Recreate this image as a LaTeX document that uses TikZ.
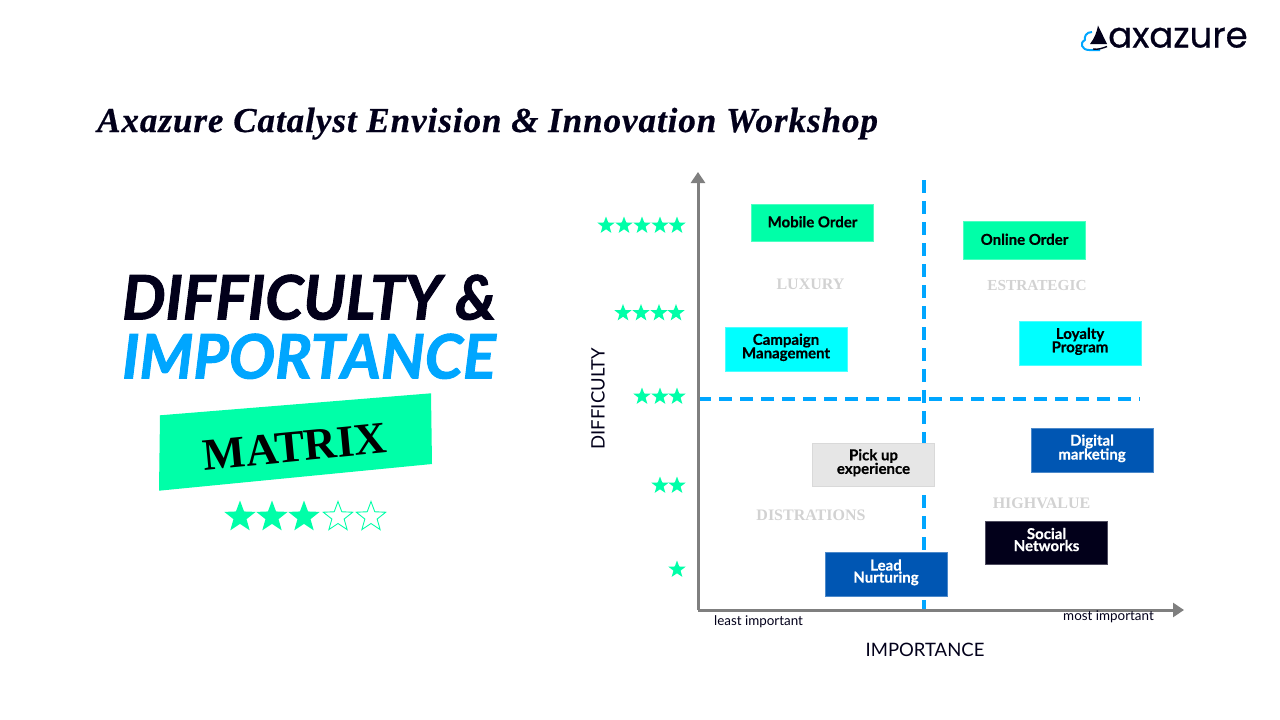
\documentclass[tikz,border=0pt]{standalone}
\usepackage{fontspec}
\setmainfont{Lato}
\newfontfamily\serifface{Liberation Serif}
\newfontfamily\logoface[FakeBold=0.6]{Poppins}
\newfontfamily\headface[FakeBold=1.6]{Lato}
\newfontfamily\cardface[FakeBold=0.5]{Lato}
\usetikzlibrary{shapes.geometric}
\usetikzlibrary{arrows.meta}
\definecolor{mintc}{HTML}{00FFA8}
\definecolor{cyanc}{HTML}{00FFFF}
\definecolor{paleg}{HTML}{E6E6E6}
\definecolor{royalb}{HTML}{0056B3}
\definecolor{inkc}{HTML}{02001A}
\definecolor{skyb}{HTML}{00A6FF}
\definecolor{axisg}{HTML}{7F7F7F}
\definecolor{quadg}{HTML}{D2D2D2}
\tikzset{
	card/.style={minimum width=122pt,inner sep=0pt,align=center,font=\fontsize{15}{13}\selectfont\cardface\bfseries},
	twoline/.style={text depth=6pt},
	mintcard/.style={card,fill=mintc,draw=mintc!70!white,text=black},
	cyancard/.style={card,twoline,fill=cyanc,draw=cyanc!70!white,text=black},
	palecard/.style={card,twoline,fill=paleg,draw=black!15,text=black},
	bluecard/.style={card,twoline,fill=royalb,draw=royalb!70!white,text=white},
	inkcard/.style={card,twoline,fill=inkc,draw=inkc!70!white,text=white},
	quad/.style={text=quadg,font=\fontsize{16}{16}\selectfont\serifface\bfseries},
	staron/.style={star,star points=5,star point ratio=2.4,inner sep=0pt,minimum size=#1,fill=mintc},
	staroff/.style={star,star points=5,star point ratio=2.4,inner sep=0pt,minimum size=#1,draw=mintc,fill=white,line width=0.9pt},
	axisline/.style={draw=axisg,line width=3pt,-{Triangle[length=11pt,width=14pt]}},
	splitline/.style={draw=skyb,line width=3.2pt,dash pattern=on 12.5pt off 8.5pt},
}
\begin{document}
\begin{tikzpicture}[x=1pt,y=-1pt]
	\useasboundingbox (0,0) rectangle (1280,720);
	\node[anchor=base west,inner sep=0pt,font=\fontsize{35}{35}\selectfont\serifface\bfseries\itshape,text=inkc] (title) at (97,132) {\addfontfeature{LetterSpace=2.75,FakeBold=0.5}Axazure Catalyst Envision \& Innovation Workshop};
	% logo
	\node[anchor=base west,inner sep=0pt,font=\fontsize{35.6}{36}\selectfont\logoface,text=inkc] (logo) at (1108,47.5) {axazure};
	\draw[skyb,line width=2pt,line join=round] (1092,32) .. controls (1086,32) and (1084,37) .. (1085,40) .. controls (1079,43) and (1082,50) .. (1089,50) -- (1100,50);
	\fill[inkc] (1098,25.5) -- (1107,44) -- (1090,44) .. controls (1094,39) and (1097,32) .. (1098,25.5);
	\draw[inkc,line width=1.4pt] (1093,49) .. controls (1098,50) and (1103,48) .. (1107,46.5);
	% left side
	\node[anchor=base west,inner sep=0pt,font=\fontsize{61.3}{60}\selectfont\headface\bfseries\itshape,text=inkc] (headone) at (122,319.5) {DIFFICULTY \&};
	\node[anchor=base west,inner sep=0pt,font=\fontsize{61.3}{60}\selectfont\headface\bfseries\itshape,text=skyb] (headtwo) at (122,378.5) {IMPORTANCE};
	\fill[mintc] (160,415.3) -- (431,393.3) -- (432,464) -- (159,490.7) -- cycle;
	\node[rotate=5.5,font=\fontsize{45}{45}\selectfont\serifface\bfseries,text=black] (matrix) at (295,446.5) {MATRIX};
	\foreach \x/\n in {240/1,272/2,304/3}
		\node[staron=33pt] (big\n) at (\x,517) {};
	\foreach \x/\n in {338/4,371/5}
		\node[staroff=31pt] (big\n) at (\x,517) {};
	% rating stars
	\foreach \x in {606,624,642,660,677}
		\node[staron=18pt] (five\x) at (\x,225.5) {};
	\foreach \x in {623,641,659,676}
		\node[staron=18pt] (four\x) at (\x,313) {};
	\foreach \x in {642,660,677}
		\node[staron=18pt] (three\x) at (\x,396.5) {};
	\foreach \x in {660,677}
		\node[staron=18pt] (two\x) at (\x,485.5) {};
	\node[staron=18pt] (one677) at (677,569.5) {};
	% axes
	\coordinate (origin) at (698,610);
	\coordinate (ytop) at (698,172);
	\coordinate (xend) at (1184,610);
	\coordinate (vtop) at (924,180);
	\coordinate (vbot) at (924,610);
	\coordinate (hleft) at (698,399);
	\coordinate (hright) at (1140,399);
	\draw[splitline] (vtop) -- (vbot);
	\draw[splitline] (hleft) -- (hright);
	\draw[axisline] (origin) -- (ytop);
	\draw[axisline] (origin) -- (xend);
	\node[rotate=90,font=\fontsize{18.5}{18}\selectfont,text=inkc] (ylab) at (598,398.5) {DIFFICULTY};
	\node[font=\fontsize{18.5}{18}\selectfont,text=inkc] (xlab) at (925,649.5) {IMPORTANCE};
	\node[font=\fontsize{13.4}{13}\selectfont,text=inkc] (least) at (758.5,621.5) {least important};
	\node[font=\fontsize{13.4}{13}\selectfont,text=inkc] (most) at (1108.5,616.5) {most important};
	% quadrants
	\node[quad] (luxury) at (810.5,284) {LUXURY};
	\node[quad,font=\fontsize{15.3}{16}\selectfont\serifface\bfseries] (estrategic) at (1037,286) {ESTRATEGIC};
	\node[quad] (distrations) at (811,515) {DISTRATIONS};
	\node[quad] (highvalue) at (1041.5,503) {HIGHVALUE};
	% cards
	\node[mintcard,minimum height=37pt] (mobile) at (812.5,222.5) {\raisebox{1.5pt}{Mobile Order}};
	\node[mintcard,minimum height=38pt] (online) at (1024.5,240) {\raisebox{1.5pt}{Online Order}};
	\node[cyancard,minimum height=44pt] (campaign) at (786,349) {Campaign\\[-1pt]Management};
	\node[cyancard,minimum height=44pt] (loyalty) at (1080,343) {Loyalty\\[-1pt]Program};
	\node[palecard,minimum height=43pt] (pickup) at (873.5,464.5) {Pick up\\[-1pt]experience};
	\node[bluecard,minimum height=44pt] (digital) at (1092,450) {Digital\\[-1pt]marketing};
	\node[inkcard,minimum height=43pt] (social) at (1046.5,542.5) {Social\\[-1pt]Networks};
	\node[bluecard,minimum height=44pt] (lead) at (886,574) {Lead\\[-1pt]Nurturing};
\end{tikzpicture}
\end{document}
